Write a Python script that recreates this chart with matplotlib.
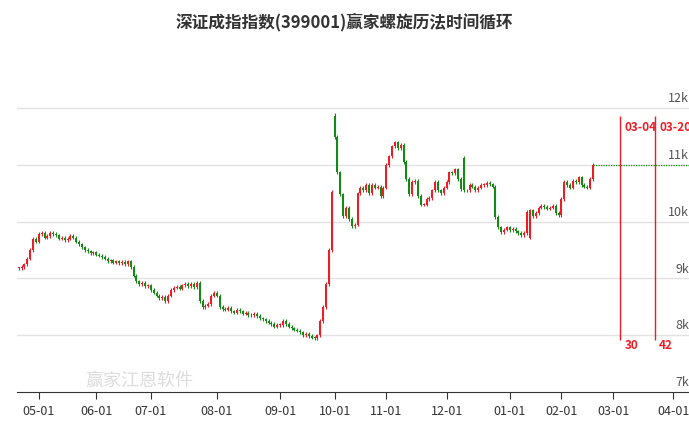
import matplotlib.pyplot as plt
import numpy as np
import pandas as pd

plt.rcParams['font.family'] = ['Noto Sans CJK SC', 'DejaVu Sans']

# Daily closes, month by month
apr_close = [9180, 9200, 9250, 9350, 9500, 9700, 9650]
may_close = [9780, 9800, 9720, 9750, 9800, 9780, 9760, 9700, 9720, 9680,
             9700, 9750, 9720, 9650, 9600, 9550, 9500, 9480, 9450, 9460]
jun_close = [9420, 9400, 9380, 9350, 9300, 9320, 9280, 9300, 9270, 9290,
             9250, 9300, 9200, 9050, 8950, 8900, 8920, 8870, 8880]
jul_close = [8800, 8750, 8700, 8650, 8680, 8600, 8700, 8800, 8840, 8850,
             8820, 8880, 8900, 8870, 8900, 8850, 8920, 8600, 8500, 8520,
             8550, 8700, 8750]
aug_close = [8700, 8500, 8460, 8450, 8480, 8420, 8400, 8450, 8420, 8380,
             8400, 8360, 8350, 8380, 8340, 8300, 8280, 8250, 8220, 8200,
             8150, 8180]
sep_close = [8180, 8250, 8200, 8150, 8120, 8100, 8080, 8050, 8000, 8020,
             7990, 7960, 7950, 8000, 8250, 8500, 8900, 9500, 10530]
oct_close = [11490, 10870, 10480, 10100, 10250, 10050, 9920, 9950, 10500, 10600,
             10550, 10650, 10500, 10650, 10600, 10620, 10450, 10600]
nov_close = [11000, 11150, 11330, 11400, 11300, 11350, 11050, 10750, 10480, 10700,
             10720, 10450, 10300, 10300, 10400, 10420, 10550, 10700, 10550, 10500,
             10600]
dec_close = [10700, 10870, 10850, 10920, 10750, 10570, 10550, 10550, 10650, 10620,
             10550, 10600, 10650, 10650, 10680, 10660, 10620, 10080, 9900, 9820,
             9860, 9900]
jan_close = [9850, 9880, 9830, 9800, 9760, 9800, 10170, 10200, 10100, 10150,
             10250, 10280, 10260, 10230, 10250, 10280]
feb_close = [10150, 10120, 10400, 10700, 10650, 10600, 10720, 10700, 10780, 10650,
             10620, 10600, 10750, 11000]

# gap opens that differ from previous close
gap_open = {'2024-10-08': 11860, '2024-12-10': 11130, '2025-01-13': 9720}
gap_high = {'2024-10-08': 11920}

holidays = ['2024-05-01', '2024-05-02', '2024-05-03', '2024-06-10', '2024-09-16',
            '2024-09-17', '2024-10-01', '2024-10-02', '2024-10-03', '2024-10-04',
            '2024-10-07', '2025-01-01', '2025-01-28', '2025-01-29', '2025-01-30',
            '2025-01-31', '2025-02-03', '2025-02-04', '2025-04-04']

cycle_dates = ['2025-03-04', '2025-03-20']
cycle_counts = ['30', '42']
title = '深证成指指数(399001)赢家螺旋历法时间循环'

closes = (apr_close + may_close + jun_close + jul_close + aug_close + sep_close
          + oct_close + nov_close + dec_close + jan_close + feb_close)

days = pd.bdate_range('2024-04-22', '2025-04-10')
days = days[~days.isin(pd.to_datetime(holidays))]
hist = days[:len(closes)]

up_c = '#ee1c25'
dn_c = '#138a13'

fig = plt.figure(figsize=(6.89, 4.27), dpi=100)
ax = fig.add_axes([17 / 689, 34 / 427, 672 / 689, 298 / 427])

prev = closes[0]
for i, (d, c) in enumerate(zip(hist, closes)):
    key = d.strftime('%Y-%m-%d')
    o = gap_open.get(key, prev)
    hi = gap_high.get(key, max(o, c) + 30)
    lo = min(o, c) - 30
    col = up_c if c >= o else dn_c
    ax.vlines(i, lo, hi, color=col, lw=0.8)
    ax.bar(i, max(abs(c - o), 15), bottom=min(o, c), width=0.7, color=col, lw=0)
    prev = c

last = len(closes) - 1
ax.plot([last, 240], [closes[-1], closes[-1]], color=dn_c, lw=0.9, ls=(0, (1, 1)))

for d, n in zip(cycle_dates, cycle_counts):
    xi = days.get_loc(pd.Timestamp(d)) + 1.5
    ax.vlines(xi, 7920, 11860, color=up_c, lw=1)
    ax.text(xi + 1.5, 11800, d[5:], color=up_c, fontsize=8.5, fontweight='bold',
            ha='left', va='top')
    ax.text(xi + 1.5, 7840, n, color=up_c, fontsize=8.5, fontweight='bold',
            ha='left', va='center')

ax.set_xlim(-0.6, 233.4)
ax.set_ylim(7000, 12250)

for v in range(8000, 12001, 1000):
    ax.axhline(v, color='#e2e2e2', lw=1, zorder=0)
for v in range(7000, 12001, 1000):
    ax.text(1.0, v + 70, f'{v // 1000}k', transform=ax.get_yaxis_transform(),
            ha='right', va='bottom', fontsize=9, color='#555555')

# month ticks at first trading day
month_starts = days.to_series().groupby(days.to_period('M')).first()
tick_pos = [days.get_loc(d) for d in month_starts if d >= pd.Timestamp('2024-05-01')]
tick_lab = [d.strftime('%m-01') for d in month_starts if d >= pd.Timestamp('2024-05-01')]
ax.set_xticks(tick_pos)
ax.set_xticklabels(tick_lab, fontsize=9, color='#333333')
ax.tick_params(axis='x', length=5, color='#333333')
ax.set_yticks([])
for s in ['top', 'right', 'left']:
    ax.spines[s].set_visible(False)
ax.spines['bottom'].set_color('#333333')

fig.text(0.5, 1 - 22 / 427, title, ha='center', va='center', fontsize=12,
         fontweight='bold', color='#333333')
fig.text(85 / 689, 1 - 381 / 427, '赢家江恩软件', fontsize=13, color='#dddddd',
         va='center')

fig.savefig('out.png', dpi=100)
